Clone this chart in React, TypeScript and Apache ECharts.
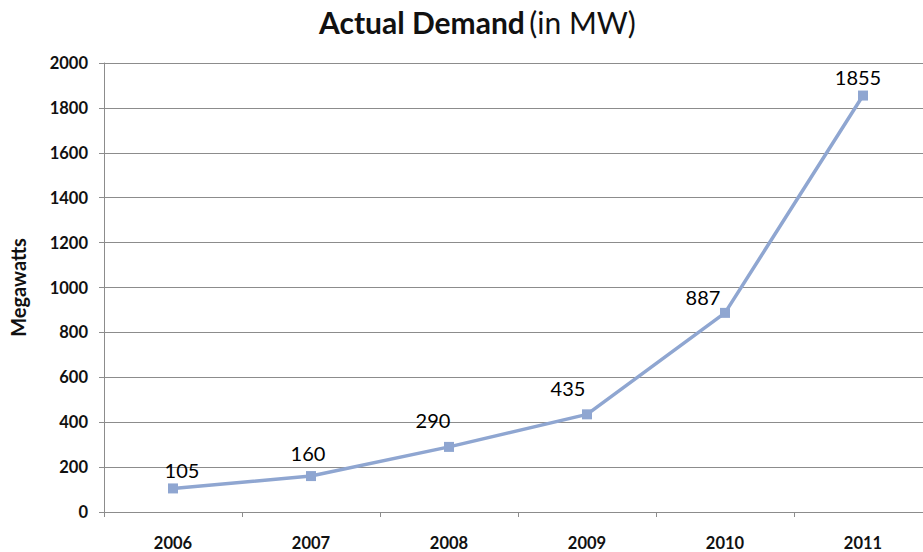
import React, { useEffect, useRef } from "react";
import * as echarts from "echarts";

const years = ["2006", "2007", "2008", "2009", "2010", "2011"];
const demandMW = [105, 160, 290, 435, 887, 1855];
const yTicks = { min: 0, max: 2000, interval: 200 };
// label offsets from point centre (styling only)
const labelOffsets = [
  [9, -18],
  [-3, -23],
  [-16, -27],
  [-19, -26],
  [-22, -16],
  [-5, -19],
];

const FONT = "Lato, 'Open Sans', sans-serif";
const LINE = "#8FA6D1";

export default function App() {
  const ref = useRef<HTMLDivElement>(null);
  useEffect(() => {
    document.body.style.margin = "0";
    const chart = echarts.init(ref.current!, undefined, { renderer: "svg" });
    chart.setOption({
      animation: false,
      backgroundColor: "#ffffff",
      textStyle: { fontFamily: FONT },
      title: {
        text: "{b|Actual Demand} {r|(in MW)}",
        left: 314,
        top: 2,
        textStyle: {
          rich: {
            b: { fontFamily: FONT, fontWeight: "bold", fontSize: 30, color: "#111" },
            r: { fontFamily: FONT, fontWeight: "normal", fontSize: 30, color: "#111" },
          },
        },
      },
      grid: {
        left: 104,
        top: 63,
        width: 828,
        height: 449,
        containLabel: false,
        outerBoundsMode: "none",
      },
      xAxis: {
        type: "category",
        data: years,
        boundaryGap: true,
        axisLine: { show: true, lineStyle: { color: "#8c8c8c", width: 1 } },
        axisTick: { show: true, length: 5, inside: false, lineStyle: { color: "#8c8c8c" } },
        axisLabel: {
          margin: 22,
          fontFamily: FONT,
          fontWeight: "bold",
          fontSize: 16.5,
          color: "#111",
        },
        splitLine: { show: false },
      },
      yAxis: {
        type: "value",
        min: yTicks.min,
        max: yTicks.max,
        interval: yTicks.interval,
        name: "Megawatts",
        nameLocation: "middle",
        nameGap: 76,
        nameRotate: 90,
        nameTextStyle: { fontFamily: FONT, fontWeight: "bold", fontSize: 20, color: "#111" },
        axisLine: { show: true, lineStyle: { color: "#8c8c8c", width: 1 } },
        axisTick: { show: true, length: 5, lineStyle: { color: "#8c8c8c" } },
        axisLabel: {
          margin: 16,
          fontFamily: FONT,
          fontWeight: "bold",
          fontSize: 16.5,
          color: "#111",
          formatter: (v: number) => String(v),
        },
        splitLine: { show: true, lineStyle: { color: "#8c8c8c", width: 1 } },
      },
      series: [
        {
          type: "line",
          data: demandMW.map((v, i) => ({
            value: v,
            label: { offset: labelOffsets[i] },
          })),
          symbol: "rect",
          symbolSize: 10,
          lineStyle: { color: LINE, width: 3.5 },
          itemStyle: { color: LINE },
          label: {
            show: true,
            position: "inside",
            align: "center",
            verticalAlign: "middle",
            fontFamily: FONT,
            fontSize: 20,
            color: "#000",
          },
        },
      ],
    });
    return () => chart.dispose();
  }, []);
  return (
    <div
      ref={ref}
      style={{ position: "absolute", left: 0, top: 0, width: 923, height: 552 }}
    />
  );
}
